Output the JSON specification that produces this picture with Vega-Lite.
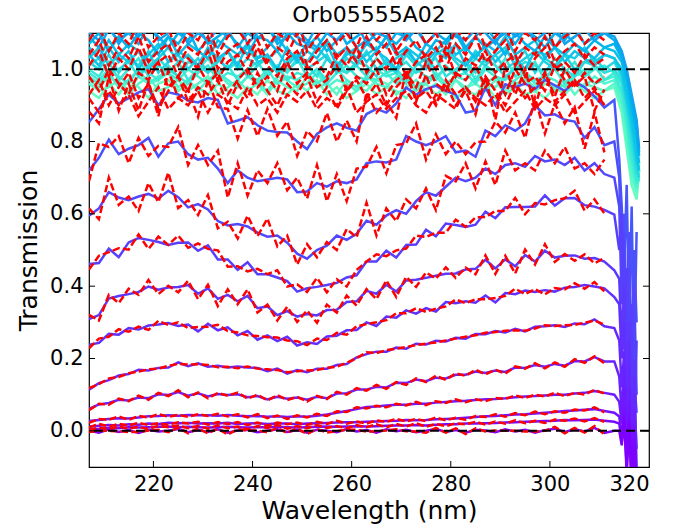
{
"$schema":"https://vega.github.io/schema/vega-lite/v6.json",
"width":560,"height":434,
"autosize":{"type":"none"},
"padding":{"left":89,"top":33,"right":25,"bottom":57},
"background":"white",
"config":{"font":"DejaVu Sans","view":{"stroke":"black","strokeWidth":1.2},
"axis":{"grid":false,"domain":false,"ticks":false,"labelColor":"black","titleColor":"black","labelFont":"DejaVu Sans","titleFont":"DejaVu Sans","labelFontSize":21,"titleFontSize":25,"titleFontWeight":"normal","labelPadding":6}},
"title":{"text":"Orb05555A02","fontSize":22,"fontWeight":"normal","color":"black","offset":6,"frame":"group","anchor":"middle","font":"DejaVu Sans"},
"datasets":{
"blue":[
{"w":207,"a":0.853,"b":0.72,"c":0.595,"d":0.461,"e":0.309,"f":0.238,"g":0.114,"h":0.061,"i":0.027,"j":0.012,"k":0.006,"l":0},
{"w":209,"a":0.89,"b":0.755,"c":0.615,"d":0.464,"e":0.32,"f":0.243,"g":0.132,"h":0.073,"i":0.03,"j":0.014,"k":0.005,"l":-0.005},
{"w":211,"a":0.93,"b":0.805,"c":0.66,"d":0.504,"e":0.366,"f":0.268,"g":0.14,"h":0.077,"i":0.033,"j":0.016,"k":0.008,"l":0.004},
{"w":213,"a":0.905,"b":0.765,"c":0.645,"d":0.48,"e":0.373,"f":0.266,"g":0.153,"h":0.086,"i":0.035,"j":0.015,"k":0.007,"l":-0.003},
{"w":215,"a":0.92,"b":0.78,"c":0.638,"d":0.521,"e":0.378,"f":0.284,"g":0.157,"h":0.084,"i":0.034,"j":0.018,"k":0.01,"l":0.002},
{"w":217,"a":0.936,"b":0.79,"c":0.648,"d":0.533,"e":0.384,"f":0.28,"g":0.169,"h":0.092,"i":0.037,"j":0.017,"k":0.009,"l":-0.006},
{"w":219,"a":0.945,"b":0.81,"c":0.655,"d":0.528,"e":0.399,"f":0.291,"g":0.167,"h":0.09,"i":0.04,"j":0.02,"k":0.01,"l":0.003},
{"w":221,"a":0.90,"b":0.758,"c":0.642,"d":0.522,"e":0.39,"f":0.294,"g":0.174,"h":0.101,"i":0.041,"j":0.019,"k":0.011,"l":-0.002},
{"w":223,"a":0.936,"b":0.795,"c":0.664,"d":0.514,"e":0.396,"f":0.298,"g":0.175,"h":0.099,"i":0.043,"j":0.022,"k":0.012,"l":0},
{"w":225,"a":0.93,"b":0.80,"c":0.646,"d":0.52,"e":0.398,"f":0.29,"g":0.189,"h":0.107,"i":0.042,"j":0.021,"k":0.01,"l":0.005},
{"w":227,"a":0.913,"b":0.765,"c":0.618,"d":0.521,"e":0.403,"f":0.294,"g":0.179,"h":0.097,"i":0.044,"j":0.022,"k":0.011,"l":-0.004},
{"w":229,"a":0.908,"b":0.75,"c":0.627,"d":0.498,"e":0.379,"f":0.275,"g":0.187,"h":0.104,"i":0.043,"j":0.02,"k":0.01,"l":0.002},
{"w":231,"a":0.92,"b":0.755,"c":0.612,"d":0.513,"e":0.394,"f":0.296,"g":0.177,"h":0.095,"i":0.043,"j":0.021,"k":0.009,"l":-0.003},
{"w":233,"a":0.915,"b":0.725,"c":0.58,"d":0.474,"e":0.365,"f":0.278,"g":0.18,"h":0.102,"i":0.042,"j":0.02,"k":0.01,"l":0.004},
{"w":235,"a":0.85,"b":0.685,"c":0.568,"d":0.474,"e":0.376,"f":0.286,"g":0.175,"h":0.099,"i":0.044,"j":0.022,"k":0.011,"l":-0.005},
{"w":237,"a":0.858,"b":0.72,"c":0.572,"d":0.445,"e":0.358,"f":0.264,"g":0.178,"h":0.101,"i":0.042,"j":0.019,"k":0.01,"l":0.001},
{"w":239,"a":0.867,"b":0.70,"c":0.565,"d":0.466,"e":0.373,"f":0.276,"g":0.175,"h":0.093,"i":0.04,"j":0.02,"k":0.009,"l":0.003},
{"w":241,"a":0.845,"b":0.69,"c":0.548,"d":0.433,"e":0.339,"f":0.252,"g":0.174,"h":0.096,"i":0.041,"j":0.021,"k":0.01,"l":-0.004},
{"w":243,"a":0.83,"b":0.695,"c":0.537,"d":0.433,"e":0.344,"f":0.264,"g":0.165,"h":0.087,"i":0.039,"j":0.019,"k":0.01,"l":0},
{"w":245,"a":0.826,"b":0.70,"c":0.54,"d":0.424,"e":0.32,"f":0.248,"g":0.172,"h":0.094,"i":0.04,"j":0.02,"k":0.011,"l":0.004},
{"w":247,"a":0.825,"b":0.695,"c":0.52,"d":0.414,"e":0.331,"f":0.26,"g":0.158,"h":0.089,"i":0.038,"j":0.02,"k":0.01,"l":-0.003},
{"w":249,"a":0.80,"b":0.66,"c":0.49,"d":0.385,"e":0.316,"f":0.236,"g":0.168,"h":0.092,"i":0.04,"j":0.018,"k":0.009,"l":0.002},
{"w":251,"a":0.779,"b":0.662,"c":0.476,"d":0.394,"e":0.323,"f":0.245,"g":0.162,"h":0.086,"i":0.039,"j":0.02,"k":0.01,"l":-0.005},
{"w":253,"a":0.821,"b":0.685,"c":0.50,"d":0.398,"e":0.319,"f":0.24,"g":0.172,"h":0.094,"i":0.042,"j":0.021,"k":0.011,"l":0.003},
{"w":255,"a":0.839,"b":0.675,"c":0.512,"d":0.403,"e":0.334,"f":0.261,"g":0.172,"h":0.09,"i":0.045,"j":0.022,"k":0.012,"l":0},
{"w":257,"a":0.85,"b":0.69,"c":0.54,"d":0.409,"e":0.335,"f":0.263,"g":0.182,"h":0.103,"i":0.05,"j":0.023,"k":0.011,"l":-0.004},
{"w":259,"a":0.838,"b":0.685,"c":0.528,"d":0.424,"e":0.356,"f":0.278,"g":0.185,"h":0.104,"i":0.055,"j":0.024,"k":0.012,"l":0.005},
{"w":261,"a":0.83,"b":0.695,"c":0.545,"d":0.43,"e":0.358,"f":0.279,"g":0.203,"h":0.114,"i":0.06,"j":0.024,"k":0.013,"l":-0.002},
{"w":263,"a":0.876,"b":0.74,"c":0.581,"d":0.468,"e":0.387,"f":0.30,"g":0.212,"h":0.114,"i":0.066,"j":0.025,"k":0.012,"l":0.002},
{"w":265,"a":0.89,"b":0.745,"c":0.57,"d":0.468,"e":0.379,"f":0.29,"g":0.219,"h":0.122,"i":0.067,"j":0.026,"k":0.013,"l":-0.005},
{"w":267,"a":0.88,"b":0.742,"c":0.595,"d":0.498,"e":0.404,"f":0.316,"g":0.219,"h":0.12,"i":0.07,"j":0.027,"k":0.014,"l":0.004},
{"w":269,"a":0.905,"b":0.75,"c":0.61,"d":0.479,"e":0.385,"f":0.313,"g":0.23,"h":0.133,"i":0.072,"j":0.028,"k":0.015,"l":-0.001},
{"w":271,"a":0.949,"b":0.815,"c":0.60,"d":0.514,"e":0.416,"f":0.333,"g":0.227,"h":0.132,"i":0.072,"j":0.03,"k":0.015,"l":0.003},
{"w":273,"a":0.93,"b":0.80,"c":0.635,"d":0.515,"e":0.418,"f":0.324,"g":0.241,"h":0.142,"i":0.075,"j":0.029,"k":0.016,"l":-0.004},
{"w":275,"a":0.945,"b":0.79,"c":0.66,"d":0.556,"e":0.423,"f":0.339,"g":0.239,"h":0.137,"i":0.075,"j":0.03,"k":0.015,"l":0},
{"w":277,"a":0.954,"b":0.80,"c":0.65,"d":0.538,"e":0.429,"f":0.33,"g":0.249,"h":0.147,"i":0.078,"j":0.032,"k":0.017,"l":0.005},
{"w":279,"a":0.94,"b":0.815,"c":0.675,"d":0.573,"e":0.434,"f":0.356,"g":0.247,"h":0.145,"i":0.08,"j":0.033,"k":0.018,"l":-0.003},
{"w":281,"a":0.93,"b":0.77,"c":0.70,"d":0.569,"e":0.435,"f":0.353,"g":0.257,"h":0.155,"i":0.082,"j":0.034,"k":0.018,"l":0.002},
{"w":283,"a":0.88,"b":0.775,"c":0.69,"d":0.564,"e":0.446,"f":0.358,"g":0.255,"h":0.155,"i":0.083,"j":0.036,"k":0.02,"l":-0.005},
{"w":285,"a":0.885,"b":0.758,"c":0.70,"d":0.57,"e":0.448,"f":0.354,"g":0.268,"h":0.164,"i":0.085,"j":0.038,"k":0.02,"l":0.003},
{"w":287,"a":0.949,"b":0.83,"c":0.725,"d":0.606,"e":0.473,"f":0.374,"g":0.267,"h":0.16,"i":0.087,"j":0.04,"k":0.021,"l":0.001},
{"w":289,"a":0.90,"b":0.815,"c":0.71,"d":0.588,"e":0.449,"f":0.355,"g":0.276,"h":0.167,"i":0.088,"j":0.041,"k":0.022,"l":-0.004},
{"w":291,"a":0.958,"b":0.845,"c":0.735,"d":0.618,"e":0.474,"f":0.381,"g":0.272,"h":0.163,"i":0.09,"j":0.043,"k":0.023,"l":0.004},
{"w":293,"a":0.95,"b":0.83,"c":0.74,"d":0.619,"e":0.455,"f":0.378,"g":0.282,"h":0.175,"i":0.093,"j":0.045,"k":0.024,"l":-0.002},
{"w":295,"a":0.96,"b":0.85,"c":0.73,"d":0.619,"e":0.486,"f":0.388,"g":0.275,"h":0.174,"i":0.095,"j":0.046,"k":0.025,"l":0.003},
{"w":297,"a":0.945,"b":0.90,"c":0.76,"d":0.62,"e":0.468,"f":0.384,"g":0.288,"h":0.182,"i":0.096,"j":0.048,"k":0.026,"l":-0.005},
{"w":299,"a":0.97,"b":0.872,"c":0.745,"d":0.651,"e":0.498,"f":0.389,"g":0.289,"h":0.177,"i":0.098,"j":0.05,"k":0.027,"l":0.002},
{"w":301,"a":0.955,"b":0.875,"c":0.75,"d":0.623,"e":0.479,"f":0.385,"g":0.292,"h":0.185,"i":0.10,"j":0.052,"k":0.028,"l":0.006},
{"w":303,"a":0.94,"b":0.86,"c":0.735,"d":0.643,"e":0.484,"f":0.396,"g":0.287,"h":0.18,"i":0.10,"j":0.055,"k":0.03,"l":-0.003},
{"w":305,"a":0.965,"b":0.855,"c":0.755,"d":0.644,"e":0.485,"f":0.398,"g":0.297,"h":0.193,"i":0.103,"j":0.056,"k":0.029,"l":0.004},
{"w":307,"a":0.95,"b":0.81,"c":0.72,"d":0.624,"e":0.476,"f":0.403,"g":0.295,"h":0.192,"i":0.105,"j":0.058,"k":0.03,"l":-0.002},
{"w":309,"a":0.925,"b":0.84,"c":0.74,"d":0.62,"e":0.478,"f":0.399,"g":0.308,"h":0.204,"i":0.11,"j":0.06,"k":0.031,"l":0.008},
{"w":311,"a":0.894,"b":0.79,"c":0.71,"d":0.611,"e":0.468,"f":0.394,"g":0.289,"h":0.192,"i":0.105,"j":0.055,"k":0.028,"l":-0.006},
{"w":313,"a":0.915,"b":0.80,"c":0.70,"d":0.598,"e":0.444,"f":0.37,"g":0.284,"h":0.192,"i":0.10,"j":0.05,"k":0.025,"l":0},
{"w":314,"a":0.75,"b":0.70,"c":0.62,"d":0.50,"e":0.42,"f":0.35,"g":0.25,"h":0.15,"i":0.08,"j":0.04,"k":0.02,"l":0},
{"w":314.5,"a":0.62,"b":0.45,"c":0.35,"d":0.60,"e":0.25,"f":0.20,"g":0.12,"h":0.05,"i":0.02,"j":-0.02,"k":-0.03,"l":-0.04},
{"w":315,"a":0.45,"b":0.60,"c":0.55,"d":0.30,"e":0.40,"f":0.30,"g":0.22,"h":0.18,"i":0.12,"j":0.06,"k":0.04,"l":0.03},
{"w":315.5,"a":0.68,"b":0.25,"c":0.20,"d":0.45,"e":0.12,"f":0.05,"g":0,"h":-0.05,"i":-0.06,"j":-0.08,"k":-0.1,"l":-0.12},
{"w":316,"a":0.30,"b":0.55,"c":0.45,"d":0.10,"e":0.30,"f":0.25,"g":0.18,"h":0.12,"i":0.08,"j":0.05,"k":0.03,"l":0.02},
{"w":316.5,"a":0.62,"b":0.15,"c":0.05,"d":0.35,"e":-0.02,"f":-0.08,"g":-0.1,"h":-0.12,"i":-0.12,"j":-0.15,"k":-0.15,"l":-0.15},
{"w":317,"a":0.20,"b":0.50,"c":0.40,"d":-0.05,"e":0.20,"f":0.15,"g":0.10,"h":0.06,"i":0.02,"j":0,"k":-0.02,"l":-0.05},
{"w":317.5,"a":0.55,"b":0.30,"c":0.10,"d":0.25,"e":-0.1,"f":0.05,"g":-0.05,"h":-0.15,"i":-0.15,"j":-0.15,"k":-0.15,"l":-0.15}
],
"red":[
{"w":207,"a":0.883,"b":0.69,"c":0.615,"d":0.446,"e":0.321,"f":0.228,"g":0.118,"h":0.057,"i":0.022,"j":0.01,"k":0.002,"l":-0.003},
{"w":209,"a":0.85,"b":0.795,"c":0.585,"d":0.484,"e":0.305,"f":0.255,"g":0.129,"h":0.075,"i":0.033,"j":0.019,"k":0.009,"l":0},
{"w":211,"a":0.98,"b":0.785,"c":0.70,"d":0.494,"e":0.376,"f":0.26,"g":0.145,"h":0.072,"i":0.031,"j":0.012,"k":0.005,"l":0},
{"w":213,"a":0.885,"b":0.815,"c":0.625,"d":0.505,"e":0.353,"f":0.281,"g":0.149,"h":0.089,"i":0.04,"j":0.019,"k":0.012,"l":-0.001},
{"w":215,"a":0.96,"b":0.74,"c":0.648,"d":0.501,"e":0.393,"f":0.274,"g":0.159,"h":0.082,"i":0.03,"j":0.015,"k":0.006,"l":-0.003},
{"w":217,"a":0.886,"b":0.81,"c":0.608,"d":0.543,"e":0.376,"f":0.288,"g":0.164,"h":0.097,"i":0.041,"j":0.022,"k":0.011,"l":-0.003},
{"w":219,"a":0.965,"b":0.76,"c":0.685,"d":0.503,"e":0.417,"f":0.279,"g":0.17,"h":0.086,"i":0.037,"j":0.016,"k":0.005,"l":0.001},
{"w":221,"a":0.87,"b":0.788,"c":0.632,"d":0.537,"e":0.378,"f":0.304,"g":0.172,"h":0.105,"i":0.046,"j":0.021,"k":0.014,"l":0.003},
{"w":223,"a":0.996,"b":0.785,"c":0.714,"d":0.514,"e":0.401,"f":0.293,"g":0.18,"h":0.096,"i":0.039,"j":0.017,"k":0.01,"l":-0.004},
{"w":225,"a":0.92,"b":0.84,"c":0.616,"d":0.54,"e":0.383,"f":0.30,"g":0.185,"h":0.112,"i":0.044,"j":0.024,"k":0.015,"l":0.009},
{"w":227,"a":0.943,"b":0.735,"c":0.638,"d":0.506,"e":0.415,"f":0.284,"g":0.183,"h":0.093,"i":0.039,"j":0.02,"k":0.007,"l":-0.007},
{"w":229,"a":0.868,"b":0.79,"c":0.597,"d":0.518,"e":0.364,"f":0.287,"g":0.184,"h":0.106,"i":0.046,"j":0.025,"k":0.014,"l":0.007},
{"w":231,"a":0.97,"b":0.735,"c":0.652,"d":0.503,"e":0.404,"f":0.288,"g":0.182,"h":0.09,"i":0.041,"j":0.017,"k":0.006,"l":-0.007},
{"w":233,"a":0.895,"b":0.775,"c":0.56,"d":0.499,"e":0.345,"f":0.293,"g":0.176,"h":0.105,"i":0.047,"j":0.024,"k":0.015,"l":0.006},
{"w":235,"a":0.89,"b":0.645,"c":0.578,"d":0.454,"e":0.391,"f":0.276,"g":0.177,"h":0.097,"i":0.04,"j":0.019,"k":0.007,"l":-0.01},
{"w":237,"a":0.808,"b":0.74,"c":0.532,"d":0.455,"e":0.35,"f":0.272,"g":0.173,"h":0.106,"i":0.046,"j":0.024,"k":0.012,"l":0.004},
{"w":239,"a":0.887,"b":0.65,"c":0.595,"d":0.441,"e":0.391,"f":0.264,"g":0.178,"h":0.089,"i":0.037,"j":0.016,"k":0.004,"l":0.001},
{"w":241,"a":0.815,"b":0.72,"c":0.538,"d":0.448,"e":0.327,"f":0.262,"g":0.172,"h":0.10,"i":0.046,"j":0.023,"k":0.013,"l":0.001},
{"w":243,"a":0.89,"b":0.685,"c":0.587,"d":0.433,"e":0.349,"f":0.259,"g":0.17,"h":0.084,"i":0.035,"j":0.014,"k":0.008,"l":-0.004},
{"w":245,"a":0.816,"b":0.74,"c":0.51,"d":0.444,"e":0.305,"f":0.258,"g":0.168,"h":0.099,"i":0.042,"j":0.023,"k":0.016,"l":0.008},
{"w":247,"a":0.855,"b":0.665,"c":0.54,"d":0.399,"e":0.343,"f":0.25,"g":0.162,"h":0.085,"i":0.033,"j":0.018,"k":0.006,"l":-0.006},
{"w":249,"a":0.76,"b":0.70,"c":0.46,"d":0.405,"e":0.301,"f":0.248,"g":0.165,"h":0.094,"i":0.043,"j":0.023,"k":0.013,"l":0.007},
{"w":251,"a":0.829,"b":0.642,"c":0.516,"d":0.384,"e":0.333,"f":0.237,"g":0.167,"h":0.081,"i":0.037,"j":0.016,"k":0.007,"l":-0.009},
{"w":253,"a":0.801,"b":0.735,"c":0.48,"d":0.423,"e":0.299,"f":0.255,"g":0.168,"h":0.097,"i":0.047,"j":0.025,"k":0.016,"l":0.005},
{"w":255,"a":0.879,"b":0.635,"c":0.522,"d":0.383,"e":0.349,"f":0.251,"g":0.174,"h":0.088,"i":0.041,"j":0.019,"k":0.008,"l":-0.005},
{"w":257,"a":0.80,"b":0.71,"c":0.50,"d":0.419,"e":0.327,"f":0.271,"g":0.177,"h":0.108,"i":0.054,"j":0.028,"k":0.013,"l":-0.001},
{"w":259,"a":0.858,"b":0.635,"c":0.558,"d":0.399,"e":0.374,"f":0.266,"g":0.188,"h":0.10,"i":0.052,"j":0.02,"k":0.007,"l":0.003},
{"w":261,"a":0.80,"b":0.725,"c":0.535,"d":0.445,"e":0.346,"f":0.289,"g":0.201,"h":0.118,"i":0.065,"j":0.026,"k":0.016,"l":0.003},
{"w":263,"a":0.936,"b":0.73,"c":0.631,"d":0.468,"e":0.392,"f":0.295,"g":0.217,"h":0.111,"i":0.062,"j":0.02,"k":0.01,"l":-0.002},
{"w":265,"a":0.88,"b":0.785,"c":0.54,"d":0.488,"e":0.364,"f":0.30,"g":0.215,"h":0.127,"i":0.069,"j":0.029,"k":0.018,"l":-0.001},
{"w":267,"a":0.91,"b":0.712,"c":0.615,"d":0.483,"e":0.416,"f":0.306,"g":0.223,"h":0.116,"i":0.065,"j":0.025,"k":0.01,"l":0.001},
{"w":269,"a":0.865,"b":0.79,"c":0.58,"d":0.499,"e":0.37,"f":0.325,"g":0.227,"h":0.135,"i":0.075,"j":0.033,"k":0.019,"l":0.004},
{"w":271,"a":0.999,"b":0.795,"c":0.64,"d":0.504,"e":0.426,"f":0.325,"g":0.232,"h":0.127,"i":0.07,"j":0.026,"k":0.012,"l":-0.001},
{"w":273,"a":0.91,"b":0.85,"c":0.615,"d":0.54,"e":0.398,"f":0.339,"g":0.237,"h":0.145,"i":0.08,"j":0.033,"k":0.021,"l":-0.002},
{"w":275,"a":0.985,"b":0.75,"c":0.67,"d":0.536,"e":0.438,"f":0.329,"g":0.241,"h":0.135,"i":0.071,"j":0.027,"k":0.011,"l":-0.005},
{"w":277,"a":0.904,"b":0.82,"c":0.61,"d":0.548,"e":0.421,"f":0.338,"g":0.244,"h":0.152,"i":0.082,"j":0.037,"k":0.019,"l":0.008},
{"w":279,"a":0.96,"b":0.765,"c":0.705,"d":0.548,"e":0.452,"f":0.344,"g":0.25,"h":0.141,"i":0.077,"j":0.029,"k":0.013,"l":-0.005},
{"w":281,"a":0.90,"b":0.80,"c":0.69,"d":0.584,"e":0.423,"f":0.363,"g":0.255,"h":0.159,"i":0.087,"j":0.036,"k":0.021,"l":0.007},
{"w":283,"a":0.94,"b":0.765,"c":0.74,"d":0.564,"e":0.451,"f":0.353,"g":0.26,"h":0.152,"i":0.079,"j":0.031,"k":0.018,"l":-0.009},
{"w":285,"a":0.875,"b":0.798,"c":0.67,"d":0.59,"e":0.433,"f":0.364,"g":0.264,"h":0.169,"i":0.087,"j":0.041,"k":0.025,"l":0.007},
{"w":287,"a":0.979,"b":0.80,"c":0.745,"d":0.591,"e":0.485,"f":0.364,"g":0.271,"h":0.156,"i":0.082,"j":0.038,"k":0.017,"l":-0.002},
{"w":289,"a":0.86,"b":0.855,"c":0.68,"d":0.608,"e":0.434,"f":0.367,"g":0.273,"h":0.169,"i":0.091,"j":0.046,"k":0.026,"l":0.001},
{"w":291,"a":1.008,"b":0.825,"c":0.775,"d":0.608,"e":0.484,"f":0.373,"g":0.277,"h":0.158,"i":0.088,"j":0.039,"k":0.02,"l":0},
{"w":293,"a":0.93,"b":0.88,"c":0.72,"d":0.644,"e":0.435,"f":0.393,"g":0.278,"h":0.178,"i":0.098,"j":0.049,"k":0.029,"l":0},
{"w":295,"a":1.0,"b":0.81,"c":0.74,"d":0.599,"e":0.501,"f":0.378,"g":0.277,"h":0.172,"i":0.091,"j":0.043,"k":0.021,"l":-0.002},
{"w":297,"a":0.895,"b":0.92,"c":0.72,"d":0.63,"e":0.46,"f":0.392,"g":0.283,"h":0.187,"i":0.10,"j":0.053,"k":0.028,"l":-0.002},
{"w":299,"a":0.99,"b":0.822,"c":0.775,"d":0.626,"e":0.516,"f":0.377,"g":0.292,"h":0.173,"i":0.095,"j":0.046,"k":0.022,"l":0},
{"w":301,"a":0.925,"b":0.905,"c":0.74,"d":0.638,"e":0.467,"f":0.395,"g":0.29,"h":0.189,"i":0.105,"j":0.054,"k":0.031,"l":0.011},
{"w":303,"a":1.0,"b":0.85,"c":0.785,"d":0.643,"e":0.489,"f":0.391,"g":0.292,"h":0.177,"i":0.096,"j":0.05,"k":0.028,"l":-0.007},
{"w":305,"a":0.955,"b":0.895,"c":0.725,"d":0.664,"e":0.47,"f":0.408,"g":0.293,"h":0.198,"i":0.105,"j":0.059,"k":0.034,"l":0.008},
{"w":307,"a":0.98,"b":0.78,"c":0.74,"d":0.609,"e":0.488,"f":0.393,"g":0.299,"h":0.188,"i":0.10,"j":0.056,"k":0.026,"l":-0.005},
{"w":309,"a":0.885,"b":0.88,"c":0.71,"d":0.64,"e":0.463,"f":0.411,"g":0.305,"h":0.206,"i":0.113,"j":0.065,"k":0.035,"l":0.013},
{"w":311,"a":0.944,"b":0.77,"c":0.75,"d":0.601,"e":0.478,"f":0.386,"g":0.294,"h":0.187,"i":0.103,"j":0.051,"k":0.025,"l":-0.01}
],
"band":[
{"w":207,"a":0.94,"b":0.96,"c":0.97,"d":0.98,"e":0.99,"f":1.0,"g":1.01,"h":1.02,"i":1.03,"j":1.04,"k":1.06,"l":1.07,"m":1.09,"n":1.1,"p":0.93,"q":0.98,"r":1.01,"s":1.04,"t":1.08,"u":0.92},
{"w":209,"a":0.92,"b":0.94,"c":0.95,"d":0.96,"e":0.97,"f":0.98,"g":1.03,"h":1.0,"i":1.06,"j":1.01,"k":1.03,"l":1.1,"m":1.06,"n":1.08,"p":0.97,"q":0.94,"r":1.05,"s":1.08,"t":1.12,"u":0.88},
{"w":211,"a":0.96,"b":0.95,"c":0.98,"d":0.99,"e":1.0,"f":1.02,"g":0.99,"h":1.04,"i":1.01,"j":1.06,"k":1.08,"l":1.05,"m":1.11,"n":1.12,"p":0.9,"q":1.0,"r":0.98,"s":1.01,"t":1.05,"u":0.94},
{"w":213,"a":0.93,"b":0.97,"c":0.96,"d":0.95,"e":0.98,"f":0.97,"g":1.0,"h":0.99,"i":1.04,"j":1.02,"k":1.04,"l":1.09,"m":1.08,"n":1.07,"p":0.95,"q":0.96,"r":1.03,"s":1.06,"t":1.1,"u":0.9},
{"w":215,"a":0.97,"b":0.93,"c":0.94,"d":0.97,"e":0.96,"f":1.0,"g":1.02,"h":1.03,"i":1.02,"j":1.05,"k":1.07,"l":1.06,"m":1.1,"n":1.11,"p":0.99,"q":0.93,"r":1.0,"s":1.03,"t":1.07,"u":0.93},
{"w":217,"a":0.95,"b":0.96,"c":0.98,"d":1.0,"e":1.0,"f":1.03,"g":0.98,"h":1.01,"i":1.05,"j":1.0,"k":1.05,"l":1.1,"m":1.07,"n":1.09,"p":0.92,"q":0.99,"r":1.06,"s":1.09,"t":1.13,"u":0.87},
{"w":219,"a":0.92,"b":0.98,"c":0.96,"d":0.96,"e":0.99,"f":0.98,"g":1.01,"h":1.05,"i":1.0,"j":1.04,"k":1.02,"l":1.08,"m":1.12,"n":1.13,"p":0.96,"q":0.97,"r":0.99,"s":1.02,"t":1.06,"u":0.91},
{"w":221,"a":0.96,"b":0.94,"c":0.97,"d":0.98,"e":0.97,"f":1.01,"g":1.03,"h":0.99,"i":1.03,"j":1.07,"k":1.06,"l":1.04,"m":1.09,"n":1.08,"p":0.89,"q":1.02,"r":1.02,"s":1.05,"t":1.09,"u":0.95},
{"w":223,"a":0.97,"b":0.95,"c":0.99,"d":0.99,"e":1.01,"f":0.99,"g":1.0,"h":1.02,"i":1.06,"j":1.02,"k":1.09,"l":1.09,"m":1.06,"n":1.1,"p":0.94,"q":0.95,"r":1.04,"s":1.07,"t":1.11,"u":0.89},
{"w":225,"a":0.94,"b":0.97,"c":0.95,"d":0.97,"e":0.98,"f":1.02,"g":0.98,"h":1.04,"i":1.02,"j":1.05,"k":1.04,"l":1.07,"m":1.1,"n":1.12,"p":0.98,"q":0.98,"r":0.98,"s":1.01,"t":1.05,"u":0.92},
{"w":227,"a":0.96,"b":0.94,"c":0.97,"d":1.0,"e":0.96,"f":0.97,"g":1.02,"h":1.0,"i":1.04,"j":1.03,"k":1.07,"l":1.11,"m":1.08,"n":1.07,"p":0.91,"q":0.94,"r":1.03,"s":1.06,"t":1.1,"u":0.9},
{"w":229,"a":0.95,"b":0.96,"c":0.94,"d":0.98,"e":0.99,"f":1.0,"g":1.01,"h":1.03,"i":1.01,"j":1.01,"k":1.05,"l":1.05,"m":1.12,"n":1.1,"p":0.95,"q":1.01,"r":1.0,"s":1.04,"t":1.08,"u":0.94},
{"w":231,"a":0.93,"b":0.98,"c":0.97,"d":0.96,"e":1.01,"f":1.03,"g":0.99,"h":0.99,"i":1.05,"j":1.06,"k":1.03,"l":1.08,"m":1.07,"n":1.08,"p":0.93,"q":0.96,"r":1.05,"s":1.09,"t":1.13,"u":0.88},
{"w":233,"a":0.96,"b":0.93,"c":0.99,"d":0.99,"e":0.97,"f":0.99,"g":1.03,"h":1.02,"i":1.03,"j":1.03,"k":1.08,"l":1.06,"m":1.09,"n":1.11,"p":0.97,"q":0.99,"r":0.97,"s":1.0,"t":1.04,"u":0.93},
{"w":235,"a":0.94,"b":0.95,"c":0.96,"d":0.97,"e":0.99,"f":1.01,"g":1.0,"h":1.05,"i":1.0,"j":1.05,"k":1.06,"l":1.1,"m":1.11,"n":1.09,"p":0.9,"q":0.93,"r":1.02,"s":1.05,"t":1.09,"u":0.91},
{"w":237,"a":0.92,"b":0.97,"c":0.95,"d":0.95,"e":0.98,"f":0.97,"g":1.02,"h":1.0,"i":1.04,"j":1.01,"k":1.04,"l":1.07,"m":1.06,"n":1.13,"p":0.96,"q":0.97,"r":1.04,"s":1.07,"t":1.11,"u":0.89},
{"w":239,"a":0.95,"b":0.94,"c":0.98,"d":0.98,"e":1.0,"f":1.0,"g":0.98,"h":1.03,"i":1.06,"j":1.07,"k":1.07,"l":1.04,"m":1.1,"n":1.07,"p":0.92,"q":1.0,"r":0.99,"s":1.03,"t":1.07,"u":0.95},
{"w":241,"a":0.93,"b":0.96,"c":0.96,"d":0.97,"e":0.96,"f":1.02,"g":1.01,"h":1.01,"i":1.02,"j":1.03,"k":1.03,"l":1.09,"m":1.08,"n":1.1,"p":0.99,"q":0.95,"r":1.06,"s":1.08,"t":1.12,"u":0.9},
{"w":243,"a":0.97,"b":0.93,"c":0.94,"d":1.0,"e":0.99,"f":0.98,"g":1.03,"h":1.04,"i":1.03,"j":1.04,"k":1.06,"l":1.08,"m":1.12,"n":1.12,"p":0.94,"q":0.98,"r":1.01,"s":1.02,"t":1.06,"u":0.92},
{"w":245,"a":0.94,"b":0.97,"c":0.98,"d":0.96,"e":1.01,"f":1.01,"g":0.99,"h":0.99,"i":1.05,"j":1.0,"k":1.09,"l":1.05,"m":1.07,"n":1.08,"p":0.9,"q":0.94,"r":0.98,"s":1.06,"t":1.1,"u":0.88},
{"w":247,"a":0.93,"b":0.95,"c":0.97,"d":0.98,"e":0.97,"f":0.99,"g":1.0,"h":1.02,"i":1.01,"j":1.06,"k":1.05,"l":1.1,"m":1.09,"n":1.11,"p":0.96,"q":1.02,"r":1.03,"s":1.04,"t":1.08,"u":0.93},
{"w":249,"a":0.96,"b":0.94,"c":0.95,"d":0.97,"e":0.99,"f":1.03,"g":1.02,"h":1.05,"i":1.04,"j":1.02,"k":1.03,"l":1.07,"m":1.11,"n":1.09,"p":0.93,"q":0.96,"r":1.05,"s":1.1,"t":1.14,"u":0.91},
{"w":251,"a":0.94,"b":0.98,"c":0.96,"d":0.99,"e":0.98,"f":0.98,"g":1.01,"h":1.0,"i":1.02,"j":1.05,"k":1.07,"l":1.06,"m":1.08,"n":1.07,"p":0.98,"q":0.99,"r":1.0,"s":1.01,"t":1.05,"u":0.94},
{"w":253,"a":0.97,"b":0.95,"c":0.99,"d":0.96,"e":1.0,"f":1.0,"g":0.98,"h":1.02,"i":1.06,"j":1.03,"k":1.05,"l":1.09,"m":1.06,"n":1.12,"p":0.91,"q":0.95,"r":1.02,"s":1.05,"t":1.09,"u":0.89},
{"w":255,"a":0.93,"b":0.96,"c":0.95,"d":0.98,"e":0.96,"f":0.97,"g":1.03,"h":1.04,"i":1.03,"j":1.07,"k":1.08,"l":1.05,"m":1.1,"n":1.1,"p":0.95,"q":0.97,"r":0.98,"s":1.08,"t":1.12,"u":0.92},
{"w":257,"a":0.95,"b":0.93,"c":0.97,"d":1.0,"e":0.99,"f":1.02,"g":1.0,"h":0.99,"i":1.0,"j":1.01,"k":1.04,"l":1.08,"m":1.12,"n":1.08,"p":0.89,"q":1.01,"r":1.04,"s":1.03,"t":1.07,"u":0.9},
{"w":259,"a":0.92,"b":0.97,"c":0.96,"d":0.97,"e":1.01,"f":0.99,"g":0.99,"h":1.03,"i":1.05,"j":1.04,"k":1.06,"l":1.11,"m":1.07,"n":1.11,"p":0.94,"q":0.94,"r":1.01,"s":1.06,"t":1.1,"u":0.95},
{"w":261,"a":0.94,"b":0.95,"c":0.94,"d":0.95,"e":0.98,"f":1.01,"g":1.02,"h":1.01,"i":1.02,"j":1.06,"k":1.03,"l":1.06,"m":1.09,"n":1.13,"p":0.97,"q":0.98,"r":1.06,"s":1.02,"t":1.06,"u":0.88},
{"w":263,"a":0.96,"b":0.94,"c":0.98,"d":0.98,"e":0.97,"f":0.98,"g":1.01,"h":1.05,"i":1.04,"j":1.02,"k":1.07,"l":1.08,"m":1.11,"n":1.07,"p":0.92,"q":0.96,"r":0.99,"s":1.09,"t":1.13,"u":0.91},
{"w":265,"a":0.93,"b":0.97,"c":0.96,"d":0.97,"e":1.0,"f":1.03,"g":0.98,"h":1.0,"i":1.06,"j":1.05,"k":1.05,"l":1.05,"m":1.08,"n":1.1,"p":0.96,"q":1.0,"r":1.03,"s":1.04,"t":1.08,"u":0.93},
{"w":267,"a":0.95,"b":0.96,"c":0.95,"d":0.99,"e":0.98,"f":0.99,"g":1.03,"h":1.02,"i":1.01,"j":1.03,"k":1.09,"l":1.09,"m":1.06,"n":1.09,"p":0.9,"q":0.93,"r":1.0,"s":1.07,"t":1.11,"u":0.89},
{"w":269,"a":0.94,"b":0.93,"c":0.98,"d":0.96,"e":0.99,"f":1.0,"g":1.0,"h":0.99,"i":1.03,"j":1.0,"k":1.04,"l":1.07,"m":1.1,"n":1.12,"p":0.95,"q":0.97,"r":1.05,"s":1.01,"t":1.05,"u":0.92},
{"w":271,"a":0.92,"b":0.95,"c":0.97,"d":0.98,"e":0.96,"f":0.97,"g":1.02,"h":1.04,"i":1.05,"j":1.06,"k":1.06,"l":1.1,"m":1.09,"n":1.08,"p":0.98,"q":0.99,"r":0.98,"s":1.05,"t":1.09,"u":0.94},
{"w":273,"a":0.95,"b":0.97,"c":0.94,"d":0.95,"e":1.0,"f":1.01,"g":0.99,"h":1.01,"i":1.02,"j":1.04,"k":1.02,"l":1.06,"m":1.12,"n":1.11,"p":0.92,"q":0.95,"r":1.02,"s":1.08,"t":1.12,"u":0.9},
{"w":275,"a":0.96,"b":0.94,"c":0.96,"d":0.97,"e":0.98,"f":1.03,"g":1.01,"h":1.03,"i":1.0,"j":1.02,"k":1.07,"l":1.04,"m":1.07,"n":1.07,"p":0.94,"q":1.02,"r":1.04,"s":1.03,"t":1.07,"u":0.88},
{"w":277,"a":0.93,"b":0.96,"c":0.98,"d":0.99,"e":0.97,"f":0.98,"g":1.03,"h":1.0,"i":1.04,"j":1.05,"k":1.05,"l":1.08,"m":1.1,"n":1.1,"p":0.9,"q":0.96,"r":1.0,"s":1.06,"t":1.1,"u":0.93},
{"w":279,"a":0.95,"b":0.93,"c":0.95,"d":0.96,"e":1.01,"f":1.0,"g":0.98,"h":1.05,"i":1.06,"j":1.03,"k":1.08,"l":1.07,"m":1.08,"n":1.12,"p":0.97,"q":0.94,"r":1.06,"s":1.0,"t":1.04,"u":0.91},
{"w":281,"a":0.92,"b":0.97,"c":0.97,"d":0.98,"e":0.98,"f":0.99,"g":1.0,"h":1.02,"i":1.03,"j":1.07,"k":1.04,"l":1.1,"m":1.11,"n":1.09,"p":0.93,"q":0.99,"r":0.98,"s":1.07,"t":1.11,"u":0.89},
{"w":283,"a":0.94,"b":0.95,"c":0.94,"d":0.97,"e":0.99,"f":1.02,"g":1.02,"h":0.99,"i":1.01,"j":1.01,"k":1.06,"l":1.05,"m":1.06,"n":1.08,"p":0.95,"q":0.97,"r":1.03,"s":1.04,"t":1.08,"u":0.95},
{"w":285,"a":0.93,"b":0.96,"c":0.98,"d":1.0,"e":0.96,"f":0.97,"g":0.99,"h":1.03,"i":1.05,"j":1.04,"k":1.03,"l":1.09,"m":1.09,"n":1.11,"p":0.91,"q":1.01,"r":1.01,"s":1.09,"t":1.13,"u":0.92},
{"w":287,"a":0.96,"b":0.94,"c":0.96,"d":0.96,"e":1.0,"f":1.01,"g":1.03,"h":1.01,"i":1.02,"j":1.06,"k":1.07,"l":1.06,"m":1.12,"n":1.1,"p":0.98,"q":0.95,"r":1.05,"s":1.02,"t":1.06,"u":0.9},
{"w":289,"a":0.92,"b":0.97,"c":0.95,"d":0.98,"e":0.98,"f":0.99,"g":1.01,"h":1.04,"i":1.04,"j":1.02,"k":1.05,"l":1.08,"m":1.08,"n":1.07,"p":0.94,"q":0.98,"r":0.99,"s":1.05,"t":1.09,"u":0.93},
{"w":291,"a":0.94,"b":0.93,"c":0.98,"d":0.95,"e":0.97,"f":1.03,"g":0.98,"h":1.0,"i":1.06,"j":1.05,"k":1.09,"l":1.04,"m":1.1,"n":1.12,"p":0.9,"q":0.93,"r":1.02,"s":1.08,"t":1.12,"u":0.88},
{"w":293,"a":0.96,"b":0.95,"c":0.96,"d":0.97,"e":1.01,"f":0.98,"g":1.0,"h":1.02,"i":1.01,"j":1.03,"k":1.04,"l":1.1,"m":1.07,"n":1.09,"p":0.96,"q":1.0,"r":1.04,"s":1.01,"t":1.05,"u":0.91},
{"w":295,"a":0.93,"b":0.98,"c":0.97,"d":0.99,"e":0.99,"f":1.0,"g":1.02,"h":1.05,"i":1.03,"j":1.0,"k":1.06,"l":1.07,"m":1.11,"n":1.11,"p":0.92,"q":0.96,"r":0.98,"s":1.06,"t":1.1,"u":0.94},
{"w":297,"a":0.94,"b":0.94,"c":0.95,"d":0.96,"e":0.97,"f":1.02,"g":1.01,"h":0.99,"i":1.05,"j":1.05,"k":1.08,"l":1.05,"m":1.09,"n":1.08,"p":0.95,"q":0.98,"r":1.03,"s":1.04,"t":1.08,"u":0.89},
{"w":299,"a":0.92,"b":0.96,"c":0.98,"d":0.98,"e":0.98,"f":0.97,"g":0.99,"h":1.03,"i":1.02,"j":1.04,"k":1.03,"l":1.09,"m":1.06,"n":1.1,"p":0.99,"q":0.94,"r":1.06,"s":1.09,"t":1.13,"u":0.92},
{"w":301,"a":0.95,"b":0.95,"c":0.94,"d":0.97,"e":1.0,"f":1.01,"g":1.03,"h":1.01,"i":1.0,"j":1.06,"k":1.06,"l":1.06,"m":1.1,"n":1.12,"p":0.91,"q":1.01,"r":1.0,"s":1.02,"t":1.06,"u":0.9},
{"w":303,"a":0.93,"b":0.97,"c":0.96,"d":0.95,"e":0.96,"f":0.99,"g":1.0,"h":1.04,"i":1.04,"j":1.02,"k":1.04,"l":1.1,"m":1.08,"n":1.07,"p":0.94,"q":0.97,"r":1.02,"s":1.05,"t":1.09,"u":0.93},
{"w":305,"a":0.96,"b":0.93,"c":0.97,"d":0.98,"e":0.99,"f":1.02,"g":0.98,"h":1.0,"i":1.03,"j":1.05,"k":1.07,"l":1.07,"m":1.12,"n":1.09,"p":0.97,"q":0.95,"r":0.99,"s":1.07,"t":1.11,"u":0.88},
{"w":307,"a":0.94,"b":0.96,"c":0.95,"d":1.0,"e":0.98,"f":0.98,"g":1.02,"h":1.02,"i":1.06,"j":1.03,"k":1.05,"l":1.05,"m":1.07,"n":1.11,"p":0.92,"q":0.99,"r":1.04,"s":1.03,"t":1.07,"u":0.91},
{"w":309,"a":0.92,"b":0.95,"c":0.98,"d":0.96,"e":1.01,"f":1.0,"g":1.01,"h":1.03,"i":1.02,"j":1.01,"k":1.03,"l":1.08,"m":1.09,"n":1.08,"p":0.95,"q":0.96,"r":1.01,"s":1.06,"t":1.1,"u":0.94},
{"w":311,"a":0.94,"b":0.94,"c":0.96,"d":0.97,"e":0.97,"f":1.01,"g":0.99,"h":1.0,"i":1.04,"j":1.04,"k":1.06,"l":1.06,"m":1.1,"n":1.1,"p":0.9,"q":0.98,"r":1.03,"s":1.04,"t":1.08,"u":0.9},
{"w":313,"a":0.95,"b":0.96,"c":0.97,"d":0.98,"e":0.99,"f":0.99,"g":1.0,"h":1.02,"i":1.03,"j":1.03,"k":1.05,"l":1.07,"m":1.08,"n":1.09},
{"w":314.5,"a":0.88,"b":0.9,"c":0.91,"d":0.93,"e":0.94,"f":0.96,"g":0.97,"h":0.98,"i":0.99,"j":1.0,"k":1.02,"l":1.03,"m":1.04,"n":1.05},
{"w":315.5,"a":0.78,"b":0.8,"c":0.83,"d":0.85,"e":0.86,"f":0.88,"g":0.9,"h":0.9,"i":0.92,"j":0.93,"k":0.96,"l":0.98,"m":0.99,"n":1.0},
{"w":316.5,"a":0.68,"b":0.7,"c":0.72,"d":0.74,"e":0.76,"f":0.78,"g":0.8,"h":0.82,"i":0.84,"j":0.86,"k":0.88,"l":0.9,"m":0.92,"n":0.93},
{"w":317.5,"a":0.64,"b":0.66,"c":0.67,"d":0.68,"e":0.69,"f":0.7,"g":0.71,"h":0.73,"i":0.75,"j":0.76,"k":0.8,"l":0.83,"m":0.85,"n":0.86},
{"w":318,"a":0.72,"b":0.74,"c":0.7,"d":0.72,"e":0.7,"f":0.69,"g":0.71,"h":0.7,"i":0.72,"j":0.72,"k":0.74,"l":0.76,"m":0.77,"n":0.78}
]
},
"resolve":{"scale":{"color":"independent"}},
"layer":[
{"data":{"name":"band"},
 "transform":[{"fold":["a","b","c","d","e","f","g","h","i","j","k","l","m","n"],"as":["k","v"]},{"filter":"isValid(datum.v)"}],
 "mark":{"type":"line","clip":true,"strokeWidth":2.5},
 "encoding":{
  "x":{"field":"w","type":"quantitative","scale":{"domain":[207,320],"nice":false,"zero":false},"axis":{"values":[220,240,260,280,300,320],"format":"d","title":"Wavelength (nm)"}},
  "y":{"field":"v","type":"quantitative","scale":{"domain":[-0.1,1.1],"nice":false,"zero":false},"axis":{"values":[0,0.2,0.4,0.6,0.8,1.0],"format":".1f","title":"Transmission","titlePadding":8}},
  "color":{"field":"k","type":"nominal","scale":{"domain":["a","b","c","d","e","f","g","h","i","j","k","l","m","n"],"range":["#66fcc2","#5cf9c7","#52f5cc","#47f0d1","#3dead5","#38e7d7","#2edfdc","#24d7df","#1acee3","#0fc5e7","#0abfe8","#00b4ec","#05afed","#0fa2f0"]},"legend":null}}},
{"data":{"name":"blue"},
 "transform":[{"fold":["a","b","c","d","e","f","g","h","i","j","k","l"],"as":["k","v"]}],
 "mark":{"type":"line","clip":true,"strokeWidth":2.5},
 "encoding":{
  "x":{"field":"w","type":"quantitative"},
  "y":{"field":"v","type":"quantitative"},
  "color":{"field":"k","type":"nominal","scale":{"domain":["a","b","c","d","e","f","g","h","i","j","k","l"],"range":["#4756fb","#4d4ffc","#5247fc","#573ffd","#5c38fd","#6130fe","#6628fe","#6b20ff","#7018ff","#7510ff","#7a08ff","#7f00ff"]},"legend":null}}},
{"data":{"name":"band"},
 "transform":[{"fold":["p","q","r","s","t","u"],"as":["k","v"]},{"filter":"isValid(datum.v)"}],
 "mark":{"type":"line","clip":true,"color":"#ff0000","strokeWidth":2.5,"strokeDash":[7.4,3.2]},
 "encoding":{"x":{"field":"w","type":"quantitative"},"y":{"field":"v","type":"quantitative"},"detail":{"field":"k"}}},
{"data":{"name":"red"},
 "transform":[{"fold":["a","b","c","d","e","f","g","h","i","j","k","l"],"as":["k","v"]}],
 "mark":{"type":"line","clip":true,"color":"#ff0000","strokeWidth":2.5,"strokeDash":[7.4,3.2]},
 "encoding":{"x":{"field":"w","type":"quantitative"},"y":{"field":"v","type":"quantitative"},"detail":{"field":"k"}}},
{"data":{"values":[{"v":0},{"v":1}]},
 "mark":{"type":"rule","color":"black","strokeWidth":2,"strokeDash":[9,5]},
 "encoding":{"y":{"field":"v","type":"quantitative"}}},
{"data":{"values":[{"w":220,"v":-0.1},{"w":240,"v":-0.1},{"w":260,"v":-0.1},{"w":280,"v":-0.1},{"w":300,"v":-0.1},{"w":220,"v":1.1},{"w":240,"v":1.1},{"w":260,"v":1.1},{"w":280,"v":1.1},{"w":300,"v":1.1}]},
 "mark":{"type":"tick","orient":"vertical","size":12,"thickness":1,"color":"black","opacity":1,"clip":true},
 "encoding":{"x":{"field":"w","type":"quantitative"},"y":{"field":"v","type":"quantitative"}}},
{"data":{"values":[{"w":207,"v":0},{"w":207,"v":0.2},{"w":207,"v":0.4},{"w":207,"v":0.6},{"w":207,"v":0.8},{"w":207,"v":1.0},{"w":320,"v":0},{"w":320,"v":0.2},{"w":320,"v":0.4},{"w":320,"v":0.6},{"w":320,"v":0.8},{"w":320,"v":1.0}]},
 "mark":{"type":"tick","orient":"horizontal","size":12,"thickness":1,"color":"black","opacity":1,"clip":true},
 "encoding":{"x":{"field":"w","type":"quantitative"},"y":{"field":"v","type":"quantitative"}}}
]
}
